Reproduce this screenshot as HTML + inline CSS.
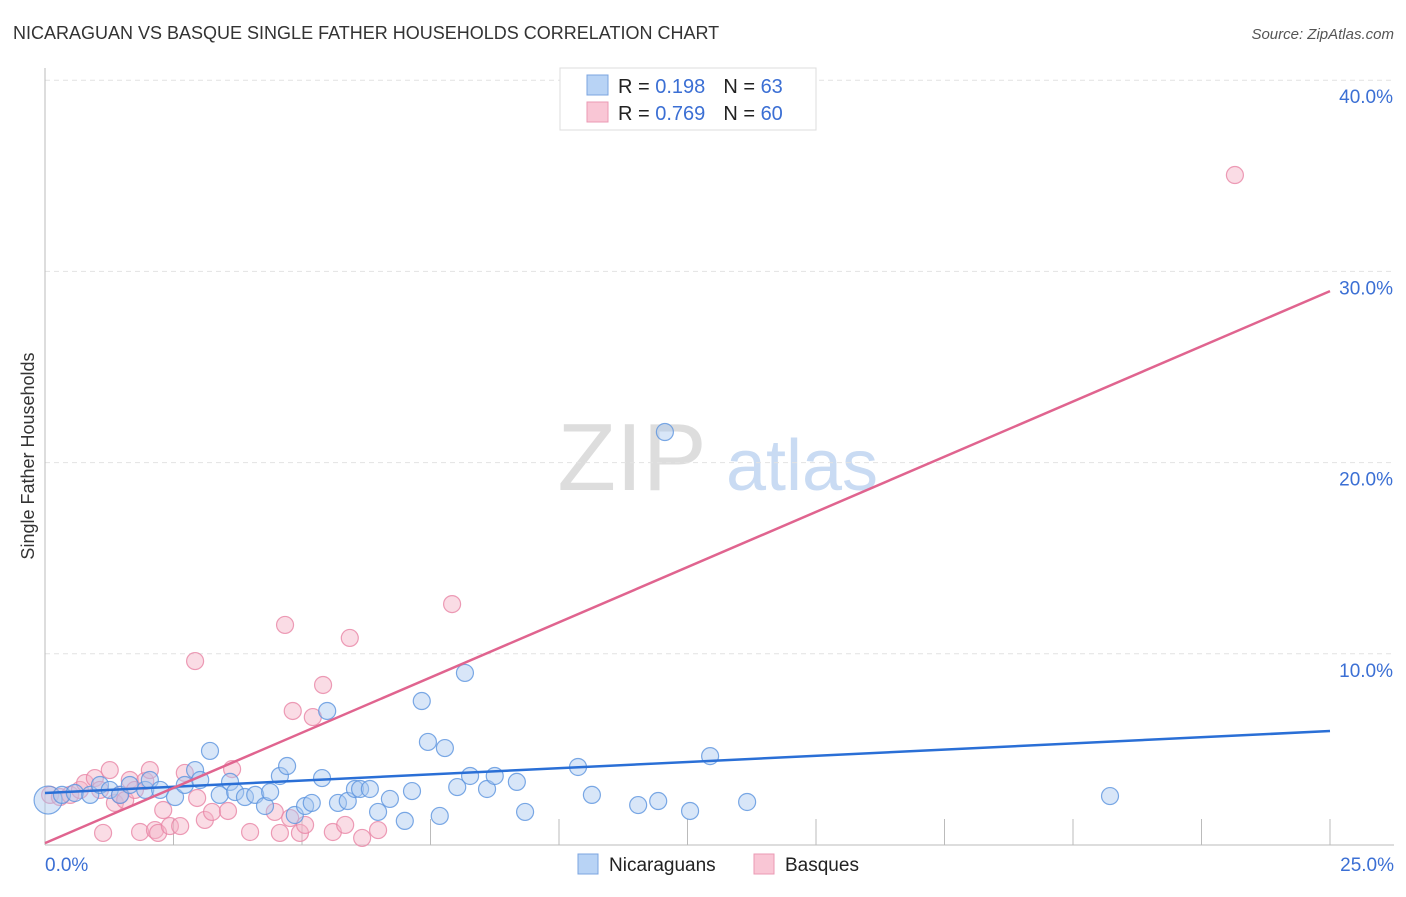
<!DOCTYPE html>
<html><head><meta charset="utf-8">
<style>
body{margin:0;background:#fff;font-family:"Liberation Sans",sans-serif;}
svg text{font-family:"Liberation Sans",sans-serif;}
</style></head>
<body>
<svg id="chart" width="1406" height="892" xmlns="http://www.w3.org/2000/svg">
<text x="13" y="39" font-size="18" fill="#333">NICARAGUAN VS BASQUE SINGLE FATHER HOUSEHOLDS CORRELATION CHART</text>
<text x="1394" y="39" font-size="15" fill="#555" text-anchor="end" font-style="italic">Source: ZipAtlas.com</text>
<text transform="translate(34,456) rotate(-90)" font-size="18" fill="#333" text-anchor="middle">Single Father Households</text>
<g>
<text x="632" y="490" font-size="96" fill="#ddd" font-family="Liberation Serif" text-anchor="middle">ZIP</text>
<text x="802" y="490" font-size="72" fill="#c9dbf3" text-anchor="middle">atlas</text>
</g>
<g id="grid"></g><g id="axes"></g><g id="pts"></g><g id="lines"></g>
<g>
<rect x="560" y="68" width="256" height="62" fill="#fff" stroke="#ddd"/>
<rect x="587" y="75" width="21" height="20" fill="#b8d3f5" stroke="#7ba5e0"/>
<rect x="587" y="102" width="21" height="20" fill="#f9c6d5" stroke="#eb9ab4"/>
<text x="618" y="93" font-size="20" fill="#222">R = <tspan fill="#3b6fd4">0.198</tspan><tspan dx="18">N = </tspan><tspan fill="#3b6fd4">63</tspan></text>
<text x="618" y="120" font-size="20" fill="#222">R = <tspan fill="#3b6fd4">0.769</tspan><tspan dx="18">N = </tspan><tspan fill="#3b6fd4">60</tspan></text>
</g>
<g>
<rect x="578" y="854" width="20" height="20" fill="#b8d3f5" stroke="#7ba5e0"/>
<text x="609" y="871" font-size="19" fill="#222">Nicaraguans</text>
<rect x="754" y="854" width="20" height="20" fill="#f9c6d5" stroke="#eb9ab4"/>
<text x="785" y="871" font-size="19" fill="#222">Basques</text>
</g>
</svg>
<script>
const yTicks=[10,20,30,40];
const yTickLabels=["10.0%","20.0%","30.0%","40.0%"];
const xTickLabels=["0.0%","25.0%"];
const blueX=[0.06,0.33,0.58,0.88,1.07,1.26,1.46,1.65,1.95,2.04,2.24,2.53,2.72,2.92,3.02,3.21,3.40,3.60,3.70,3.89,4.09,4.28,4.38,4.57,4.71,4.86,5.06,5.19,5.39,5.49,5.70,5.89,6.03,6.13,6.32,6.48,6.71,7.00,7.14,7.33,7.45,7.68,7.78,8.02,8.17,8.27,8.60,8.75,9.18,9.34,10.37,10.64,11.54,11.93,12.06,12.55,12.94,13.66,20.72];
const blueY=[2.35,2.62,2.72,2.62,3.14,2.88,2.62,3.14,2.88,3.40,2.88,2.51,3.14,3.92,3.40,4.92,2.62,3.30,2.77,2.51,2.62,2.04,2.77,3.61,4.13,1.57,2.04,2.20,3.50,7.01,2.20,2.30,2.93,2.93,2.93,1.73,2.41,1.26,2.82,7.53,5.39,1.52,5.07,3.03,9.00,3.61,2.93,3.61,3.30,1.73,4.08,2.62,2.09,2.30,21.60,1.78,4.65,2.25,2.56];
const pinkX=[0.10,0.29,0.49,0.68,0.78,0.97,1.07,1.13,1.26,1.36,1.46,1.56,1.65,1.75,1.85,1.95,2.04,2.14,2.20,2.30,2.43,2.63,2.72,2.92,2.96,3.11,3.25,3.56,3.64,3.99,4.47,4.57,4.67,4.77,4.82,4.96,5.06,5.21,5.41,5.60,5.84,5.93,6.17,6.48,7.92,23.15];
const pinkY=[2.62,2.51,2.62,2.88,3.24,3.50,2.88,0.63,3.92,2.20,2.62,2.35,3.40,2.88,0.68,3.35,3.92,0.78,0.63,1.83,0.99,0.99,3.77,9.62,2.46,1.31,1.73,1.78,3.97,0.68,1.73,0.63,11.51,1.41,7.01,0.63,1.05,6.69,8.37,0.68,1.05,10.83,0.37,0.78,12.60,35.04];
const blueTrend=[2.72,5.96];
const pinkTrend=[0.10,28.97];
const X0=45,X1=1330,Y0=845,PXY=19.12;
const sx=v=>X0+(X1-X0)*v/25;
const sy=v=>Y0-v*PXY;
const NS="http://www.w3.org/2000/svg";
function mk(tag,attrs,parent){const e=document.createElementNS(NS,tag);for(const k in attrs)e.setAttribute(k,attrs[k]);document.getElementById(parent).appendChild(e);return e;}
yTicks.forEach((t,i)=>{
 const g=mk('line',{x1:X0,x2:1394,y1:sy(t),y2:sy(t),stroke:'#e2e2e2','stroke-dasharray':'5,4'},'grid');
 
 
 const l=mk('text',{x:1393,y:sy(t)+23,'font-size':19,fill:'#3b6fd4','text-anchor':'end'},'grid');
 l.textContent=yTickLabels[i];
 
 
});
const ax=mk('line',{x1:X0,x2:X0,y1:68,y2:Y0,stroke:'#bbb'},'axes');


const bx=mk('line',{x1:X0,x2:1394,y1:Y0,y2:Y0,stroke:'#bbb'},'axes');


for(let i=1;i<=10;i++){const t=mk('line',{x1:sx(i*2.5),x2:sx(i*2.5),y1:Y0-26,y2:Y0,stroke:'#bbb'},'axes');
 
 }
[[0,'start',X0],[1,'end',1394]].forEach(([i,a,x])=>{const t=mk('text',{x:x,y:871,'font-size':19,fill:'#3b6fd4','text-anchor':a},'axes');t.textContent=xTickLabels[i];
 
 });
function pts(xs,ys,fill,stroke,name){xs.forEach((x,i)=>{const c=mk('circle',{cx:sx(x),cy:sy(ys[i]),r:(i===0&&name==='nicaraguan-point')?14:8.5,fill:fill,'fill-opacity':0.45,stroke:stroke,'stroke-opacity':0.8,'stroke-width':1.2},'pts');
 
 });}
pts(pinkX,pinkY,'#f4b1c6','#e984a5','basque-point');
pts(blueX,blueY,'#a9c8f0','#5b93de','nicaraguan-point');
const bl=mk('line',{x1:sx(0),y1:sy(blueTrend[0]),x2:sx(25),y2:sy(blueTrend[1]),stroke:'#2a6fd6','stroke-width':2.5},'lines');


const pl=mk('line',{x1:sx(0),y1:sy(pinkTrend[0]),x2:sx(25),y2:sy(pinkTrend[1]),stroke:'#e0648f','stroke-width':2.5},'lines');


</script>
</body></html>
